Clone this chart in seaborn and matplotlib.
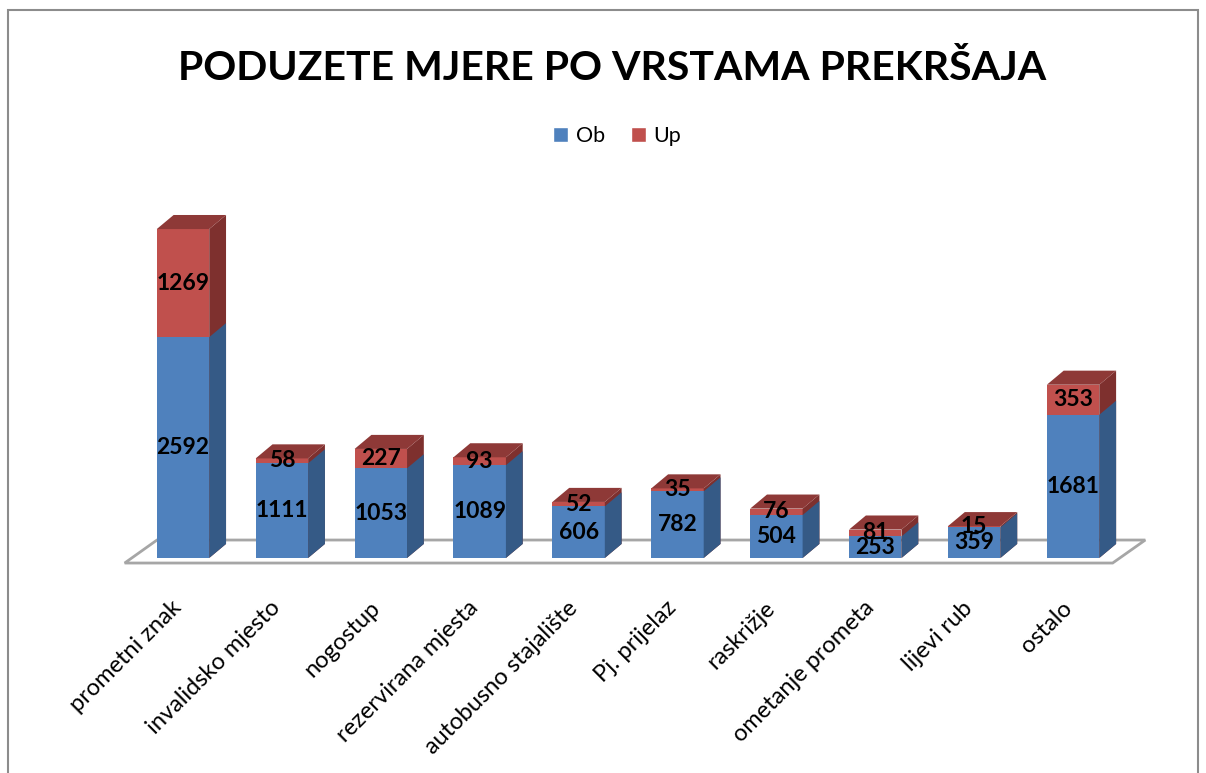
"""
Poduzete mjere po vrstama prekrsaja
===================================

Stacked bars (Ob + Up) drawn with seaborn, with a fake 3D look
(side faces, top faces and a floor) added on top of the seaborn bars.
"""

# Libraries
import pandas as pd
import seaborn as sns
import matplotlib.pyplot as plt
import matplotlib.transforms as mtransforms
from matplotlib.patches import Patch, Polygon, Rectangle

# Seaborn
sns.set_theme(style="white")
plt.rcParams['font.family'] = ['Lato', 'DejaVu Sans']
plt.rcParams['text.color'] = 'black'
plt.rcParams['xtick.color'] = 'black'

# ---------------------------------
# Data
# ---------------------------------
categories = ['prometni znak', 'invalidsko mjesto', 'nogostup',
              'rezervirana mjesta', 'autobusno stajalište', 'Pj. prijelaz',
              'raskrižje', 'ometanje prometa', 'lijevi rub', 'ostalo']
ob = [2592, 1111, 1053, 1089, 606, 782, 504, 253, 359, 1681]
up = [1269, 58, 227, 93, 52, 35, 76, 81, 15, 353]

title = 'PODUZETE MJERE PO VRSTAMA PREKRŠAJA'

# ---------------------------------
# Constants
# ---------------------------------
blue, blue_side = '#4F81BD', '#355A86'
red, red_side, red_top = '#C0504D', '#7E302E', '#8E3937'
floor_color = '#A6A6A6'

# 3D depth (data units)
dx, dy = 0.17, 165

data = pd.DataFrame({'kategorija': categories, 'Ob': ob, 'Up': up})
data['total'] = data.Ob + data.Up

# ---------------------------------
# Plot
# ---------------------------------
fig = plt.figure(figsize=(12.06, 7.73), dpi=100)
ax = fig.add_axes([0.08615, 0.2616, 0.86924, 0.49048])

# Stacked bars: total in red, Ob in blue on top of it
sns.barplot(data=data, x='kategorija', y='total', color=red, saturation=1,
            width=0.53, linewidth=0, ax=ax, zorder=2)
sns.barplot(data=data, x='kategorija', y='Ob', color=blue, saturation=1,
            width=0.53, linewidth=0, ax=ax, zorder=3)

red_bars, blue_bars = ax.containers[0], ax.containers[1]

# Floor
n = len(categories)
floor = Polygon([(-0.59, -59), (n - 1 + 0.40, -59),
                 (n - 1 + 0.73, 211), (-0.263, 211)],
                closed=True, facecolor='white', edgecolor=floor_color,
                lw=2, zorder=0)
ax.add_patch(floor)

# 3D faces
for rb, bb in zip(red_bars, blue_bars):
    x0, x1 = rb.get_x(), rb.get_x() + rb.get_width()
    top = rb.get_height()
    mid = bb.get_height()
    ax.add_patch(Polygon([(x1, 0), (x1 + dx, dy), (x1 + dx, top + dy),
                          (x1, top)], closed=True, facecolor=red_side,
                         lw=0, zorder=2))
    ax.add_patch(Polygon([(x1, 0), (x1 + dx, dy), (x1 + dx, mid + dy),
                          (x1, mid)], closed=True, facecolor=blue_side,
                         lw=0, zorder=3))
    ax.add_patch(Polygon([(x0, top), (x0 + dx, top + dy),
                          (x1 + dx, top + dy), (x1, top)], closed=True,
                         facecolor=red_top, lw=0, zorder=3))

# Data labels
for i, (o, u) in enumerate(zip(data.Ob, data.Up)):
    ax.text(i, o / 2, str(o), ha='center', va='center', fontsize=16.5,
            fontweight='bold', color='black', zorder=5)
    ax.text(i, o + u / 2, str(u), ha='center', va='center', fontsize=16.5,
            fontweight='bold', color='black', zorder=5)

# Configure axes
ax.set_xlim(-0.8, 9.8)
ax.set_ylim(-150, 4300)
ax.set_xlabel('')
ax.set_ylabel('')
ax.set_yticks([])
sns.despine(ax=ax, left=True, bottom=True)
ax.tick_params(axis='x', length=0, pad=19, labelsize=17)
shift = mtransforms.ScaledTranslation(-12 / 100, 0, fig.dpi_scale_trans)
for lab in ax.get_xticklabels():
    lab.set_rotation(45)
    lab.set_ha('right')
    lab.set_va('top')
    lab.set_rotation_mode('anchor')
    lab.set_transform(lab.get_transform() + shift)

# Legend
handles = [Patch(facecolor=blue, label='Ob'), Patch(facecolor=red, label='Up')]
fig.legend(handles=handles, loc='center', bbox_to_anchor=(0.5116, 0.824),
           ncol=2, frameon=False, fontsize=15.5, handlelength=0.7,
           handleheight=0.7, handletextpad=0.35, columnspacing=1.2)

# Title
fig.text(0.5075, 0.8965, title, ha='center', va='baseline', fontsize=29.5,
         fontweight='bold', color='black')

# Chart border
fig.patches.append(Rectangle((8 / 1206, -0.1), 1190 / 1206, 1.1 - 10 / 773,
                             transform=fig.transFigure, fill=False,
                             edgecolor='#8C8C8C', lw=1.5))

# Save
fig.savefig('out.png', dpi=100, facecolor='white')
